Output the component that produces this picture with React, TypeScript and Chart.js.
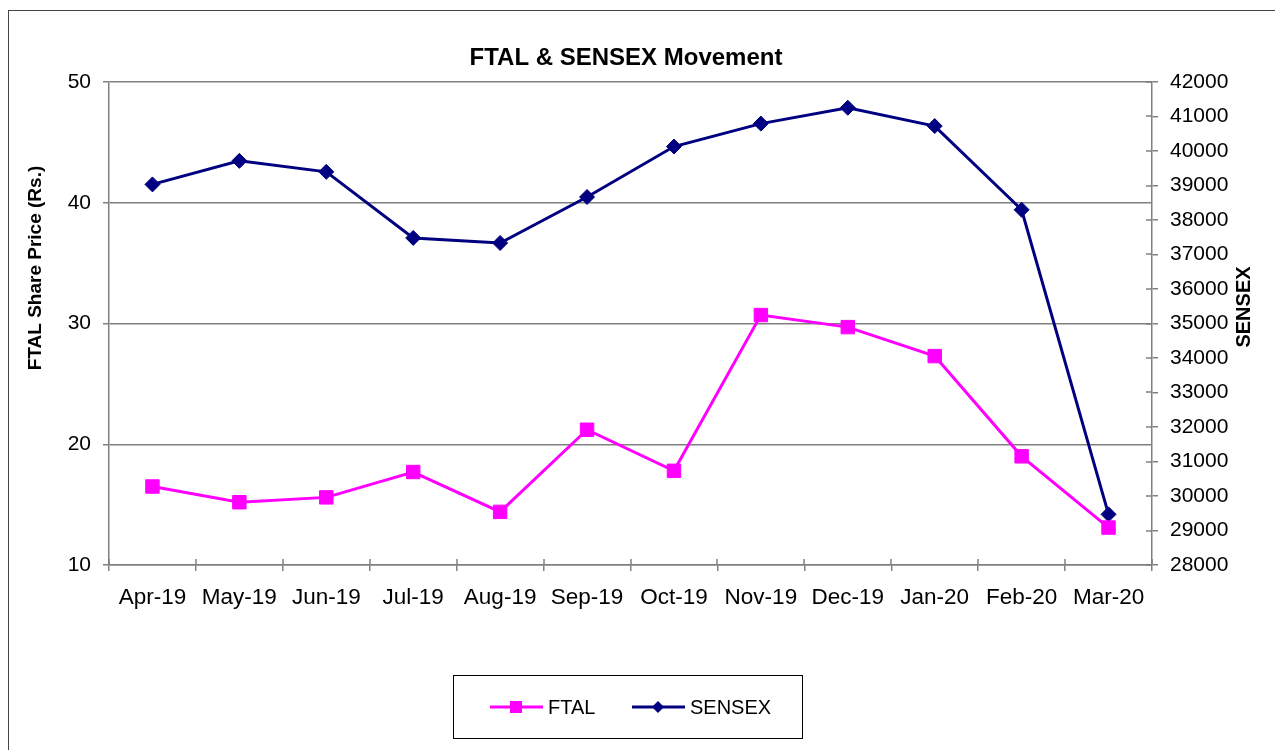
import { useEffect, useRef } from 'react';
import { Chart, registerables } from 'chart.js';

Chart.register(...registerables);

const chartTitle = 'FTAL & SENSEX Movement';
const leftAxisTitle = 'FTAL Share Price (Rs.)';
const rightAxisTitle = 'SENSEX';

const categories = ['Apr-19', 'May-19', 'Jun-19', 'Jul-19', 'Aug-19', 'Sep-19', 'Oct-19', 'Nov-19', 'Dec-19', 'Jan-20', 'Feb-20', 'Mar-20'];
const ftalPrices = [16.5, 15.2, 15.6, 17.7, 14.4, 21.2, 17.8, 30.7, 29.7, 27.3, 19.0, 13.1];
const sensexValues = [39032, 39714, 39395, 37481, 37333, 38667, 40129, 40794, 41254, 40723, 38297, 29468];

const leftMin = 10;
const leftMax = 50;
const leftStep = 10;
const rightMin = 28000;
const rightMax = 42000;
const rightStep = 1000;

const FONT = '"Liberation Sans", Arial, Helvetica, sans-serif';
const GRID = '#808080';

const decor = {
  id: 'decor',
  afterDraw(chart: any) {
    const ctx = chart.ctx;
    const ca = chart.chartArea;
    ctx.save();
    // inner halves of crossing tick marks
    ctx.strokeStyle = GRID;
    ctx.lineWidth = 1.5;
    const n = categories.length;
    const w = (ca.right - ca.left) / n;
    ctx.beginPath();
    for (let i = 0; i <= n; i++) {
      const x = Math.round(ca.left + i * w);
      ctx.moveTo(x, ca.bottom - 6);
      ctx.lineTo(x, ca.bottom);
    }
    const ys = chart.scales.y1;
    ys.ticks.forEach((t: any) => {
      const y = Math.round(ys.getPixelForValue(t.value));
      ctx.moveTo(ca.right - 6, y);
      ctx.lineTo(ca.right, y);
    });
    ctx.stroke();

    // title
    ctx.fillStyle = '#000';
    ctx.textAlign = 'center';
    ctx.textBaseline = 'middle';
    ctx.font = `bold 24px ${FONT}`;
    ctx.fillText(chartTitle, 617, 47);

    // axis titles
    ctx.font = `bold 19px ${FONT}`;
    ctx.save();
    ctx.translate(27, 257);
    ctx.rotate(-Math.PI / 2);
    ctx.fillText(leftAxisTitle, 0, 0);
    ctx.restore();
    ctx.save();
    ctx.font = `bold 20px ${FONT}`;
    ctx.translate(1235, 296);
    ctx.rotate(-Math.PI / 2);
    ctx.fillText(rightAxisTitle, 0, 0);
    ctx.restore();

    // legend
    ctx.strokeStyle = '#000';
    ctx.lineWidth = 1;
    ctx.strokeRect(444.5, 664.5, 349, 63);
    const items = [
      { x: 481, ds: chart.data.datasets[0] },
      { x: 623, ds: chart.data.datasets[1] },
    ];
    const ly = 696;
    items.forEach(({ x, ds }) => {
      ctx.strokeStyle = ds.borderColor;
      ctx.lineWidth = 3;
      ctx.beginPath();
      ctx.moveTo(x, ly);
      ctx.lineTo(x + 53, ly);
      ctx.stroke();
      ctx.fillStyle = ds.backgroundColor;
      const cx = x + 26;
      if (ds.pointStyle === 'rect') {
        ctx.fillRect(cx - 6, ly - 6, 12, 12);
      } else {
        ctx.beginPath();
        ctx.moveTo(cx, ly - 6);
        ctx.lineTo(cx + 6, ly);
        ctx.lineTo(cx, ly + 6);
        ctx.lineTo(cx - 6, ly);
        ctx.closePath();
        ctx.fill();
      }
      ctx.fillStyle = '#000';
      ctx.font = `20px ${FONT}`;
      ctx.textAlign = 'left';
      ctx.textBaseline = 'middle';
      ctx.fillText(ds.label, x + 58, ly + 1);
    });
    ctx.restore();
  },
};

export default function App() {
  const ref = useRef<HTMLCanvasElement>(null);

  useEffect(() => {
    document.documentElement.style.overflow = 'hidden';
    document.body.style.overflow = 'hidden';
    const canvas = ref.current;
    if (!canvas) return;
    const tickFont = { family: FONT, size: 21 };
    const xTickFont = { family: FONT, size: 22.5 };
    const chart = new Chart(canvas, {
      type: 'line',
      data: {
        labels: categories,
        datasets: [
          {
            label: 'FTAL',
            data: ftalPrices,
            yAxisID: 'y',
            borderColor: '#FF00FF',
            backgroundColor: '#FF00FF',
            borderWidth: 3,
            pointStyle: 'rect',
            pointRadius: 9.5,
            pointBorderWidth: 1,
            tension: 0,
          },
          {
            label: 'SENSEX',
            data: sensexValues,
            yAxisID: 'y1',
            borderColor: '#000080',
            backgroundColor: '#000080',
            borderWidth: 3,
            pointStyle: 'rectRot',
            pointRadius: 7.5,
            pointBorderWidth: 1,
            tension: 0,
          },
        ],
      },
      options: {
        animation: false,
        responsive: false,
        maintainAspectRatio: false,
        layout: { padding: { top: 71, left: 0, right: 51, bottom: 136 } },
        plugins: {
          legend: { display: false },
          title: { display: false },
          tooltip: { enabled: false },
        },
        scales: {
          x: {
            offset: true,
            grid: { offset: true, drawOnChartArea: false, drawTicks: true, tickLength: 6, color: GRID, lineWidth: 1.5 },
            border: { color: GRID, width: 1.5 },
            ticks: { font: xTickFont, color: '#000', padding: 13, maxRotation: 0, autoSkip: false },
            afterFit(s: any) { s.height = 50; },
          },
          y: {
            position: 'left',
            min: leftMin,
            max: leftMax,
            ticks: { stepSize: leftStep, font: tickFont, color: '#000', padding: 12 },
            grid: { color: GRID, tickLength: 6, lineWidth: 1.5 },
            border: { color: GRID, width: 1.5 },
            afterFit(s: any) { s.width = 100; },
          },
          y1: {
            position: 'right',
            min: rightMin,
            max: rightMax,
            ticks: {
              stepSize: rightStep,
              font: tickFont,
              color: '#000',
              padding: 12,
              callback: (v: any) => String(v),
            },
            grid: { drawOnChartArea: false, color: GRID, tickLength: 6, lineWidth: 1.5 },
            border: { color: GRID, width: 1.5 },
            afterFit(s: any) { s.width = 80; },
          },
        },
      },
      plugins: [decor],
    } as any);
    return () => chart.destroy();
  }, []);

  return (
    <div
      style={{
        position: 'relative',
        top: 2,
        width: 1275,
        height: 741,
        borderLeft: '1px solid #444',
        borderTop: '1px solid #444',
        background: '#fff',
      }}
    >
      <canvas ref={ref} width={1274} height={740} style={{ display: 'block', width: 1274, height: 740 }} />
    </div>
  );
}
